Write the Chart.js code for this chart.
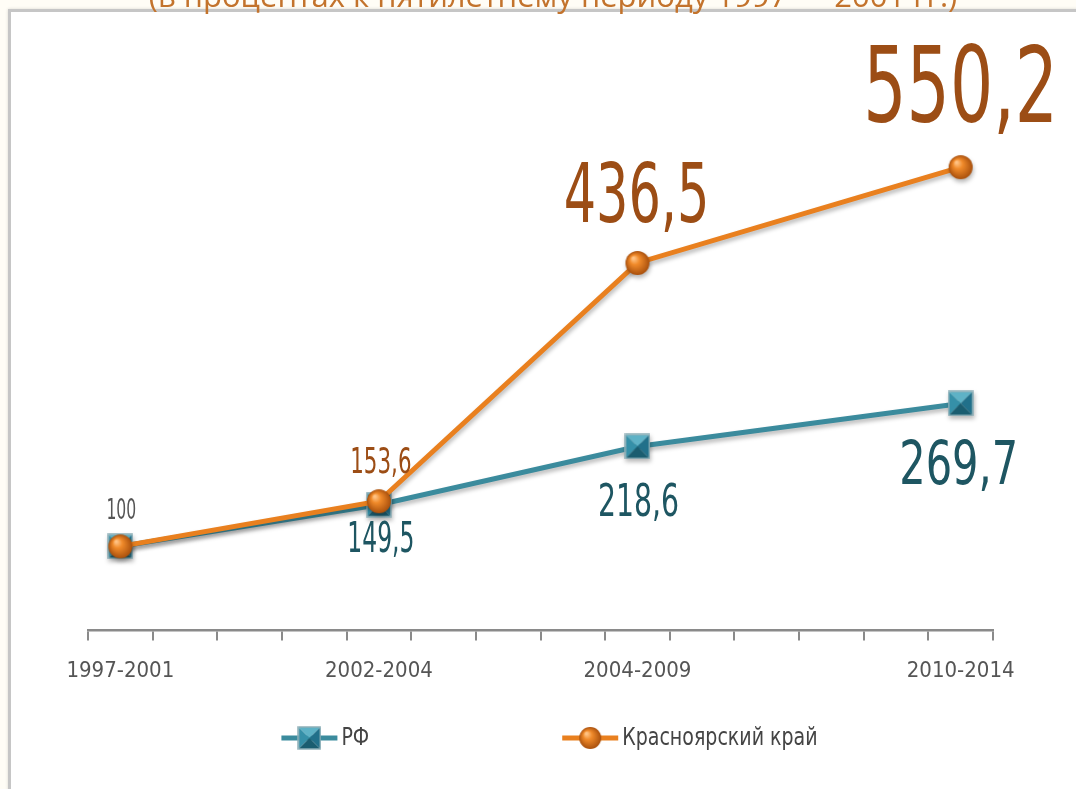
<!DOCTYPE html>
<html lang="ru">
<head>
<meta charset="utf-8">
<script src="https://cdn.jsdelivr.net/npm/chart.js@4.4.1/dist/chart.umd.min.js"></script>
<style>
  html, body { margin: 0; padding: 0; width: 1076px; height: 789px; overflow: hidden; background: #fffdf6; }
  #frame { position: absolute; left: 8px; top: 9px; width: 1200px; height: 900px; background: #fff;
           border: 3px solid #c6c6c6; box-shadow: 0 0 3px rgba(0,0,0,0.15); }
  #subtitle { position: absolute; left: 0; width: 1106px; top: -26px; text-align: center; white-space: nowrap;
              font: 31px 'Open Sans', sans-serif; color: #c3732c; z-index: 2; }
  #chart { position: absolute; left: 0; top: 0; z-index: 1; }
</style>
</head>
<body>
<div id="frame"></div>
<div id="subtitle">(в процентах к пятилетнему периоду 1997 — 2001 гг.)</div>
<canvas id="chart" width="1076" height="789"></canvas>
<script>
// periods that carry data
const periods = ['1997-2001', '2002-2004', '2004-2009', '2010-2014'];
// the x axis is a 14-slot scale, only some slots are labelled
const axisLabels = ['1997-2001', '', '', '', '2002-2004', '', '', '', '2004-2009', '', '', '', '', '2010-2014'];
const rfValues = [100, 149.5, 218.6, 269.7];
const kraiValues = [100, 153.6, 436.5, 550.2];

const FONT = "'Liberation Sans Narrow', 'DejaVu Sans Condensed', sans-serif";

// pyramid-like square marker
function squareMarker(size) {
  const c = document.createElement('canvas');
  c.width = c.height = size + 2;
  const g = c.getContext('2d');
  const o = 1, s = size, m = o + s / 2;
  const faces = [
    [[o, o], [o + s, o], '#5eb2c6'],
    [[o, o], [o, o + s], '#3590a8'],
    [[o + s, o], [o + s, o + s], '#21708a'],
    [[o, o + s], [o + s, o + s], '#1a5d70']
  ];
  faces.forEach(([a, b, col]) => {
    g.beginPath();
    g.moveTo(a[0], a[1]); g.lineTo(b[0], b[1]); g.lineTo(m, m); g.closePath();
    g.fillStyle = col; g.fill();
  });
  g.strokeStyle = '#8fb0b8'; g.lineWidth = 1.5;
  g.strokeRect(o, o, s, s);
  return c;
}

// shaded ball marker
function ballMarker(r) {
  const c = document.createElement('canvas');
  c.width = c.height = r * 2 + 2;
  const g = c.getContext('2d');
  const cx = r + 1;
  const grad = g.createRadialGradient(cx - r * 0.35, cx - r * 0.4, 1, cx, cx, r);
  grad.addColorStop(0, '#ffc283');
  grad.addColorStop(0.35, '#f08a2a');
  grad.addColorStop(1, '#a9500d');
  g.beginPath();
  g.arc(cx, cx, r, 0, Math.PI * 2);
  g.fillStyle = grad; g.fill();
  return c;
}

const markers = {
  rf: squareMarker(24), krai: ballMarker(12),
  rfSmall: squareMarker(22), kraiSmall: ballMarker(11)
};

// drop shadow under the lines + value labels next to the points
const shadowAndLabels = {
  id: 'valueLabels',
  beforeDatasetsDraw(chart) {
    const ctx = chart.ctx;
    ctx.save();
    ctx.shadowColor = 'rgba(0,0,0,0.28)';
    ctx.shadowBlur = 4;
    ctx.shadowOffsetX = 1;
    ctx.shadowOffsetY = 3;
  },
  afterDatasetsDraw(chart, args, opts) {
    const ctx = chart.ctx;
    ctx.restore();
    chart.data.datasets.forEach((ds, di) => {
      const meta = chart.getDatasetMeta(di);
      const styles = opts.styles[di];
      meta.data.forEach((pt, i) => {
        const st = styles[i];
        if (!st) return;
        const v = ds.data[i].y;
        const text = String(v).replace('.', ',');
        ctx.save();
        ctx.translate(pt.x + (st.dx || 0), pt.y + st.dy);
        ctx.scale(st.sx, 1);
        ctx.font = st.size + 'px ' + FONT;
        ctx.fillStyle = st.color || opts.colors[di];
        ctx.textAlign = 'center';
        ctx.textBaseline = 'alphabetic';
        ctx.fillText(text, 0, 0);
        ctx.restore();
      });
    });
  }
};

// legend with a line through the marker, spread wide like the original
const lineLegend = {
  id: 'lineLegend',
  afterDraw(chart, args, opts) {
    const ctx = chart.ctx;
    const area = chart.chartArea;
    ctx.save();
    ctx.font = opts.size + 'px ' + FONT;
    const items = chart.data.datasets.map(ds => {
      const tw = ctx.measureText(ds.label).width * opts.sx;
      return { ds, tw, w: opts.iconWidth + opts.textGap + tw };
    });
    const total = items.reduce((a, it) => a + it.w, 0) + opts.gap * (items.length - 1);
    let x = (area.left + area.right) / 2 + opts.shift - total / 2;
    const y = opts.y;
    items.forEach(it => {
      ctx.strokeStyle = it.ds.borderColor;
      ctx.lineWidth = 5;
      ctx.beginPath();
      ctx.moveTo(x, y); ctx.lineTo(x + opts.iconWidth, y);
      ctx.stroke();
      const img = it.ds.legendMarker;
      ctx.drawImage(img, x + opts.iconWidth / 2 - img.width / 2, y - img.height / 2);
      ctx.save();
      ctx.translate(x + opts.iconWidth + opts.textGap, y + 1);
      ctx.scale(opts.sx, 1);
      ctx.fillStyle = opts.color;
      ctx.textBaseline = 'middle';
      ctx.textAlign = 'left';
      ctx.fillText(it.ds.label, 0, 0);
      ctx.restore();
      x += it.w + opts.gap;
    });
    ctx.restore();
  }
};

new Chart(document.getElementById('chart'), {
  type: 'line',
  data: {
    labels: axisLabels,
    datasets: [
      {
        label: 'РФ',
        data: periods.map((p, i) => ({ x: p, y: rfValues[i] })),
        borderColor: '#3b8b9d',
        borderWidth: 5,
        pointStyle: markers.rf,
        pointRadius: 12,
        legendMarker: markers.rfSmall,
        order: 2
      },
      {
        label: 'Красноярский край',
        data: periods.map((p, i) => ({ x: p, y: kraiValues[i] })),
        borderColor: '#e9801f',
        borderWidth: 5,
        pointStyle: markers.krai,
        pointRadius: 12,
        legendMarker: markers.kraiSmall,
        order: 1
      }
    ]
  },
  options: {
    responsive: false,
    animation: false,
    layout: { padding: { left: 88, right: 83, top: 41, bottom: 88 } },
    scales: {
      x: {
        type: 'category',
        offset: true,
        grid: { offset: true, drawOnChartArea: false, drawTicks: true, tickLength: 10, color: '#8a8a8a', lineWidth: 2 },
        border: { color: '#8a8a8a', width: 2.5 },
        ticks: { autoSkip: false, maxRotation: 0, padding: 17, color: '#555', font: { family: FONT, size: 22 } }
      },
      y: { display: false, min: 0, max: 700 }
    },
    plugins: {
      legend: { display: false },
      tooltip: { enabled: false },
      valueLabels: {
        colors: ['#1e5662', '#9c4d15'],
        styles: [
          [{ size: 28, dy: -27, dx: 1, sx: 0.62, color: '#555' }, { size: 42, dy: 47, dx: 2, sx: 0.62 },
           { size: 45, dy: 70, dx: 1, sx: 0.70 }, { size: 60, dy: 81, dx: -2, sx: 0.77 }],
          [null, { size: 35, dy: -28, dx: 2, sx: 0.68 }, { size: 82, dy: -41, dx: -1, sx: 0.69 }, { size: 105, dy: -45, sx: 0.72 }]
        ]
      },
      lineLegend: { y: 738, size: 24, sx: 0.88, iconWidth: 56, textGap: 4, gap: 193, shift: 9, color: '#444' }
    }
  },
  plugins: [shadowAndLabels, lineLegend]
});
</script>
</body>
</html>
